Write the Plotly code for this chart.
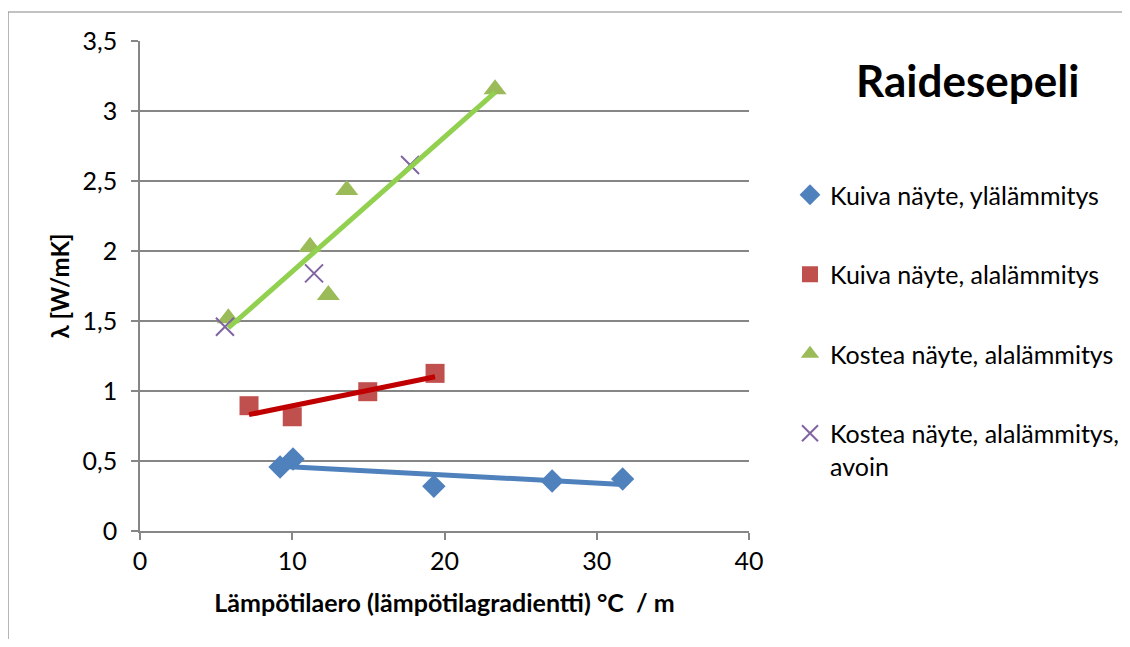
import numpy as np
import plotly.graph_objects as go

# Data
kuiva_yla_x = [9.2, 10.05, 19.3, 27.07, 31.7]
kuiva_yla_y = [0.457, 0.514, 0.32, 0.357, 0.371]

kuiva_ala_x = [7.16, 10.0, 14.96, 19.38]
kuiva_ala_y = [0.895, 0.816, 0.995, 1.126]

kostea_ala_x = [5.8, 11.17, 13.58, 12.37, 23.32]
kostea_ala_y = [1.519, 2.031, 2.436, 1.686, 3.155]

kostea_avoin_x = [5.58, 11.43, 17.74]
kostea_avoin_y = [1.459, 1.84, 2.614]

series_names = [
    "Kuiva näyte, ylälämmitys",
    "Kuiva näyte, alalämmitys",
    "Kostea näyte, alalämmitys",
    "Kostea näyte, alalämmitys,<br>avoin",
]
title_text = "Raidesepeli"
x_title = "Lämpötilaero (lämpötilagradientti) °C  / m"
y_title = "λ [W/mK]"

FONT = "Lato"
GRAY = "#868686"

fig = go.Figure()

marker_specs = [
    (kuiva_yla_x, kuiva_yla_y, dict(symbol="diamond", size=18, color="#4F81BD")),
    (kuiva_ala_x, kuiva_ala_y, dict(symbol="square", size=19, color="#C0504D")),
    (kostea_ala_x, kostea_ala_y, dict(symbol="triangle-up", size=20, color="#9BBB59")),
    (kostea_avoin_x, kostea_avoin_y, dict(symbol="x-thin", size=18, color="#8064A2",
                                          line=dict(color="#8064A2", width=2))),
]
for i, (xs, ys, mk) in enumerate(marker_specs):
    fig.add_trace(go.Scatter(
        x=xs, y=ys, mode="markers", name=series_names[i], marker=mk,
        legendgroup=f"g{i}", showlegend=True,
    ))

# Linear trendlines (Excel style) computed from the data
trend_specs = [
    (kuiva_yla_x, kuiva_yla_y, "#4F81BD", 0),
    (kuiva_ala_x, kuiva_ala_y, "#C00000", 1),
    (kostea_ala_x, kostea_ala_y, "#92D050", 2),
]
for xs, ys, col, gi in trend_specs:
    k, b = np.polyfit(xs, ys, 1)
    xl = np.array([min(xs), max(xs)])
    fig.add_trace(go.Scatter(
        x=xl, y=k * xl + b, mode="lines", line=dict(color=col, width=5),
        showlegend=False, legendgroup=f"g{gi}", hoverinfo="skip",
    ))

OFF = 8  # page body margin
L, R, T, B = 140 - OFF, 749 - OFF, 41 - OFF, 531 - OFF
W, H = 1130 - 2 * OFF, 647 - 2 * OFF

def px_x(p):
    return (p - OFF - L) / (R - L)

def px_y(p):
    return (B - (p - OFF)) / (B - T)

fig.update_layout(
    width=W, height=H,
    margin=dict(l=L, r=W - R, t=T, b=H - B, pad=0, autoexpand=False),
    paper_bgcolor="white", plot_bgcolor="white",
    separators=", ",
    font=dict(family=FONT, size=25, color="#000000"),
    showlegend=True,
    legend=dict(
        x=px_x(790), y=px_y(172), xanchor="left", yanchor="top",
        traceorder="grouped", tracegroupgap=44, valign="top",
        font=dict(family=FONT, size=25, color="#000000"),
        bgcolor="rgba(0,0,0,0)",
    ),
    xaxis=dict(
        range=[0, 40], dtick=10, tick0=0, showgrid=False, zeroline=False,
        showline=True, linecolor=GRAY, linewidth=1.5,
        ticks="outside", ticklen=7, tickcolor=GRAY, tickwidth=1.5,
        tickfont=dict(family=FONT, size=25),
        title=dict(text=f"<b>{x_title}</b>", font=dict(family=FONT, size=25), standoff=21),
    ),
    yaxis=dict(
        range=[0, 3.5], dtick=0.5, tick0=0, showgrid=True, gridcolor=GRAY, gridwidth=1.5,
        zeroline=False, showline=True, linecolor=GRAY, linewidth=1.5,
        ticks="outside", ticklen=7, tickcolor=GRAY, tickwidth=1.5,
        tickfont=dict(family=FONT, size=25), ticklabelstandoff=9,
        title=dict(text=f"<b>{y_title}</b>", font=dict(family=FONT, size=24), standoff=6),
    ),
    annotations=[dict(
        text=f"<b>{title_text}</b>", x=px_x(967), y=px_y(80), xref="paper", yref="paper",
        xanchor="center", yanchor="middle", showarrow=False,
        font=dict(family=FONT, size=44, color="#000000"),
    )],
    shapes=[dict(
        type="rect", xref="paper", yref="paper",
        x0=px_x(8), x1=px_x(1160), y0=px_y(680), y1=px_y(12),
        line=dict(color=GRAY, width=1.2), fillcolor="rgba(0,0,0,0)", layer="below",
    )],
)

fig.write_html("out.html")
